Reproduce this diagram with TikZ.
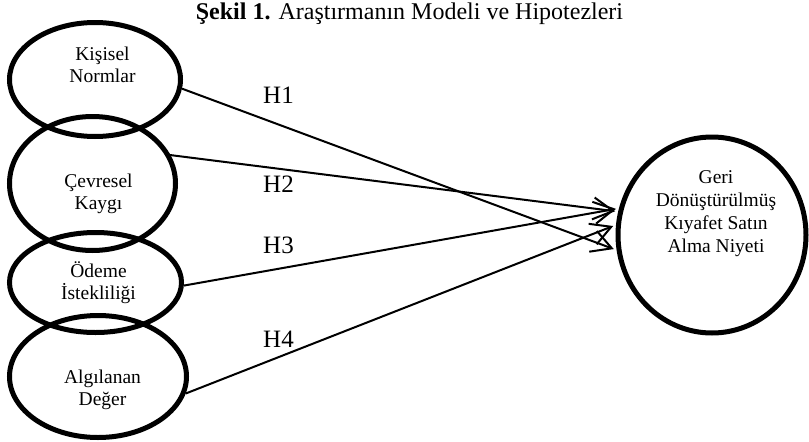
\documentclass[tikz,border=0pt]{standalone}
\usepackage{fontspec}
\setmainfont{Liberation Serif}
\usetikzlibrary{arrows.meta,shapes.geometric}
% centred multi-line block whose baseline is that of its first line
\newcommand\stacktxt[1]{\begin{tabular}[t]{@{}c@{}}#1\end{tabular}}
\begin{document}
\begin{tikzpicture}[x=1pt,y=-1pt,
  construct/.style={draw, ellipse, line width=5pt, inner sep=0pt},
  label text/.style={anchor=base, inner sep=0pt, font=\fontsize{19.5}{22}\selectfont},
  hyp/.style={anchor=base west, inner sep=0pt, font=\fontsize{25}{28}\selectfont},
  link/.style={line width=2pt, -{Straight Barb[length=20pt,width=22pt]}, shorten >=3pt}
]
\useasboundingbox (0,0) rectangle (809,442);

% title
\node[anchor=base, inner sep=0pt, font=\fontsize{24}{27}\selectfont] (title) at (409.5,19.5)
  {\textbf{Şekil 1.} Araştırmanın Modeli ve Hipotezleri};

% independent constructs
\node[construct, minimum width=171pt, minimum height=114pt] (kn) at (95,79.5) {};
\node[construct, minimum width=166pt, minimum height=134pt] (ck) at (92.5,183.5) {};
\node[construct, minimum width=172pt, minimum height=100pt] (oi) at (95.5,282.5) {};
\node[construct, minimum width=177pt, minimum height=122pt] (ad) at (98,376.5) {};

\node[label text] (kntxt) at (102.5,60) {\stacktxt{Kişisel\\Normlar}};
\node[label text] (cktxt) at (98.5,187) {\stacktxt{Çevresel\\Kaygı}};
\node[label text] (oitxt) at (98.5,277) {\stacktxt{Ödeme\\İstekliliği}};
\node[label text] (adtxt) at (102.5,383) {\stacktxt{Algılanan\\Değer}};

% dependent construct
\node[construct, minimum width=188pt, minimum height=196pt] (pi) at (712,235) {};
\node[label text] (pitxt) at (716,183)
  {\stacktxt{Geri\\[1pt]Dönüştürülmüş\\[1pt]Kıyafet Satın\\[1pt]Alma Niyeti}};

% hypotheses
\draw[link] (kn.-6)  -- (pi.189);
\draw[link, shorten <=-5pt] (ck.20)  -- (pi.166);
\draw[link] (oi.-2)  -- (pi.164.5);
\draw[link] (ad.-11) -- (pi.174);

\node[hyp] (h1) at (263,103) {H1};
\node[hyp] (h2) at (263,192) {H2};
\node[hyp] (h3) at (263,253) {H3};
\node[hyp] (h4) at (263,347) {H4};
\end{tikzpicture}
\end{document}
